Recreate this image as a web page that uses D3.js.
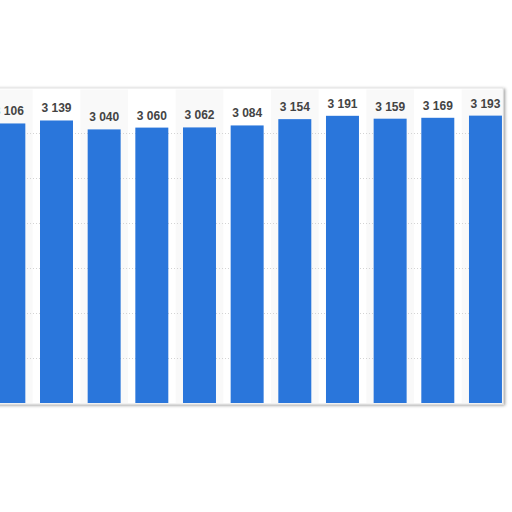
<!DOCTYPE html>
<html>
<head>
<meta charset="utf-8">
<script src="https://cdn.jsdelivr.net/npm/d3@7"></script>
<style>
  body { margin: 0; background: #fff; }
  svg { display: block; }
</style>
</head>
<body>
<div id="container"></div>
<script>
const categories = ['2009', '2010', '2011', '2012', '2013', '2014', '2015', '2016', '2017', '2018', '2019'];
const values = [3106, 3139, 3040, 3060, 3062, 3084, 3154, 3191, 3159, 3169, 3193];
const gridTicks = [0, 500, 1000, 1500, 2000, 2500, 3000, 3500];

const fmt = (v) => d3.format(',')(v).replace(/,/g, ' ');

const svg = d3.select('#container')
    .append('svg')
        .attr('width', 512)
        .attr('height', 512);

const defs = svg.append('defs');
const shadow = defs.append('filter')
    .attr('id', 'shadow')
    .attr('x', '-5%').attr('y', '-5%')
    .attr('width', '110%').attr('height', '110%');
shadow.append('feDropShadow')
    .attr('dx', 1.5).attr('dy', 1)
    .attr('stdDeviation', 1.5)
    .attr('flood-color', '#000')
    .attr('flood-opacity', 0.4);

const xScale = d3.scaleBand()
    .domain(categories)
    .range([-15, 509.3])
    .paddingInner(0.308)
    .paddingOuter(0.154);

const yScale = d3.scaleLinear().domain([0, 3500]).range([403, 88]);

// panel
svg.append('rect')
    .attr('x', -20)
    .attr('y', yScale(3500))
    .attr('width', 523)
    .attr('height', yScale(0) - yScale(3500) + 1)
    .attr('fill', '#fff')
    .attr('stroke', '#e2e2e2')
    .attr('stroke-width', 1)
    .attr('filter', 'url(#shadow)');

// alternating column shading
const step = xScale.step();
const pad = (step - xScale.bandwidth()) / 2;
svg.append('g')
    .selectAll('rect')
    .data(categories.filter((d, i) => i % 2 === 0))
    .enter()
    .append('rect')
        .attr('x', (d) => xScale(d) - pad)
        .attr('y', yScale(3500) + 1.5)
        .attr('width', (d) => Math.min(step, 502.5 - (xScale(d) - pad)))
        .attr('height', yScale(0) - yScale(3500) - 1.5)
        .attr('fill', '#f9f9f9');

// grid
svg.append('g')
    .selectAll('line')
    .data(gridTicks.slice(1, -1))
    .enter()
    .append('line')
        .attr('x1', 0)
        .attr('x2', 502)
        .attr('y1', (d) => yScale(d) + 0.5)
        .attr('y2', (d) => yScale(d) + 0.5)
        .attr('stroke', '#d4d4d4')
        .attr('stroke-width', 1)
        .attr('stroke-dasharray', '1,2');

// bars
svg.append('g')
    .selectAll('rect')
    .data(values)
    .enter()
    .append('rect')
        .attr('x', (d, i) => xScale(categories[i]))
        .attr('y', (d) => yScale(d))
        .attr('width', xScale.bandwidth())
        .attr('height', (d) => yScale(0) - yScale(d))
        .attr('fill', '#2a76db');

// labels
svg.append('g')
    .selectAll('text')
    .data(values)
    .enter()
    .append('text')
        .attr('x', (d, i) => xScale(categories[i]) + xScale.bandwidth() / 2)
        .attr('y', (d) => yScale(d) - 8)
        .attr('text-anchor', 'middle')
        .style('font-family', '"Liberation Sans", Arial, sans-serif')
        .style('font-weight', 'bold')
        .style('font-size', '12px')
        .style('fill', '#444')
        .text((d) => fmt(d));
</script>
</body>
</html>
